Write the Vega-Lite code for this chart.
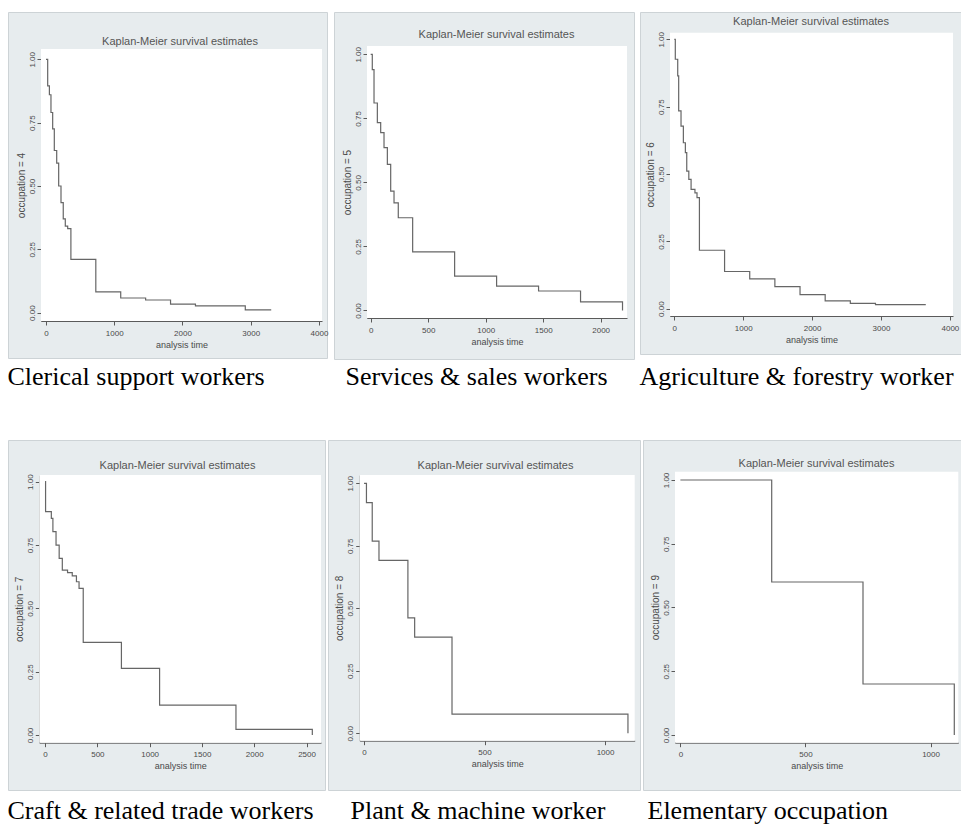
{
  "$schema": "https://vega.github.io/schema/vega-lite/v6.json",
  "background": "white",
  "padding": {"left": 7, "top": 11, "right": 0, "bottom": 0},
  "config": {
    "font": "Liberation Sans",
    "axis": {"labelFont": "Liberation Sans", "titleFont": "Liberation Sans", "labelColor": "#4a4a4a", "titleColor": "#4a4a4a", "labelFontSize": 8, "titleFontSize": 9, "titleFontWeight": "normal", "domainColor": "#5a5a5a", "tickColor": "#5a5a5a", "tickSize": 4, "labelFlush": false, "labelOverlap": false, "labelBound": false, "gridColor": "#e4ebee", "gridWidth": 1},
    "concat": {"spacing": 0}
  },
  "spacing": 48,
  "vconcat": [
    {
      "spacing": 4,
      "hconcat": [
        {
          "title": {"text": "Clerical support workers", "orient": "bottom", "anchor": "start", "frame": "bounds", "offset": 5.7, "dx": 0, "baseline": "top", "font": "Liberation Serif", "fontSize": 26, "fontWeight": "normal", "color": "#000000"},
          "vconcat": [
            {
              "width": 319, "height": 346,
              "view": {"fill": "#e7ecee", "stroke": "#cdd3d6"},
              "title": {"text": "Kaplan-Meier survival estimates", "offset": -46, "dx": 12.5, "frame": "group", "anchor": "middle", "baseline": "bottom", "font": "Liberation Sans", "fontSize": 11, "fontWeight": "normal", "color": "#555555"},
              "data": {"values": [
                {"t": 0, "s": 1}, {"t": 25, "s": 0.895}, {"t": 50, "s": 0.86}, {"t": 73, "s": 0.79}, {"t": 98, "s": 0.725}, {"t": 122, "s": 0.64}, {"t": 157, "s": 0.59}, {"t": 186, "s": 0.5}, {"t": 220, "s": 0.434}, {"t": 253, "s": 0.37}, {"t": 283, "s": 0.342}, {"t": 318, "s": 0.332}, {"t": 365, "s": 0.21}, {"t": 730, "s": 0.082}, {"t": 1095, "s": 0.058}, {"t": 1460, "s": 0.05}, {"t": 1825, "s": 0.034}, {"t": 2190, "s": 0.027}, {"t": 2920, "s": 0.011}, {"t": 3300, "s": 0.011}
              ]},
              "layer": [
                {
                  "data": {"values": [{}]},
                  "mark": {"type": "rect", "color": "#ffffff"},
                  "encoding": {
                    "x": {"datum": -73, "type": "quantitative", "scale": {"domain": [-73, 4044], "range": [33, 314], "nice": false, "zero": false}, "axis": {"values": [0, 1000, 2000, 3000, 4000], "format": "d", "title": "analysis time", "offset": -37, "labelPadding": 4, "titlePadding": 3, "grid": false}},
                    "x2": {"datum": 4044},
                    "y": {"datum": -0.0328, "type": "quantitative", "scale": {"domain": [-0.0328, 1.0406], "range": [309, 37], "nice": false, "zero": false}, "axis": {"values": [0, 0.25, 0.5, 0.75, 1], "format": ".2f", "title": "occupation = 4", "offset": -33, "labelAngle": -90, "labelAlign": "center", "labelBaseline": "bottom", "labelPadding": 1, "titlePadding": 2, "titleFontSize": 10, "grid": true}},
                    "y2": {"datum": 1.0406}
                  }
                },
                {
                  "mark": {"type": "line", "interpolate": "step-after", "color": "#666666", "strokeWidth": 1.2},
                  "encoding": {
                    "x": {"field": "t", "type": "quantitative", "scale": {"domain": [-73, 4044], "range": [33, 314], "nice": false, "zero": false}, "axis": {"values": [0, 1000, 2000, 3000, 4000], "format": "d", "title": "analysis time", "offset": -37, "labelPadding": 4, "titlePadding": 3, "grid": false}},
                    "y": {"field": "s", "type": "quantitative", "scale": {"domain": [-0.0328, 1.0406], "range": [309, 37], "nice": false, "zero": false}, "axis": {"values": [0, 0.25, 0.5, 0.75, 1], "format": ".2f", "title": "occupation = 4", "offset": -33, "labelAngle": -90, "labelAlign": "center", "labelBaseline": "bottom", "labelPadding": 1, "titlePadding": 2, "titleFontSize": 10, "grid": true}}
                  }
                }
              ]
            }
          ]
        },
        {
          "title": {"text": "Services & sales workers", "orient": "bottom", "anchor": "start", "frame": "bounds", "offset": 4.7, "dx": 12, "baseline": "top", "font": "Liberation Serif", "fontSize": 26, "fontWeight": "normal", "color": "#000000"},
          "vconcat": [
            {
              "width": 300, "height": 347,
              "view": {"fill": "#e7ecee", "stroke": "#cdd3d6"},
              "title": {"text": "Kaplan-Meier survival estimates", "offset": -39, "dx": 12.5, "frame": "group", "anchor": "middle", "baseline": "bottom", "font": "Liberation Sans", "fontSize": 11, "fontWeight": "normal", "color": "#555555"},
              "data": {"values": [
                {"t": 0, "s": 1}, {"t": 14, "s": 0.94}, {"t": 29, "s": 0.81}, {"t": 58, "s": 0.733}, {"t": 87, "s": 0.694}, {"t": 116, "s": 0.636}, {"t": 145, "s": 0.57}, {"t": 174, "s": 0.466}, {"t": 203, "s": 0.42}, {"t": 240, "s": 0.362}, {"t": 365, "s": 0.229}, {"t": 730, "s": 0.134}, {"t": 1095, "s": 0.095}, {"t": 1460, "s": 0.076}, {"t": 1825, "s": 0.034}, {"t": 2190, "s": 0}
              ]},
              "layer": [
                {
                  "data": {"values": [{}]},
                  "mark": {"type": "rect", "color": "#ffffff"},
                  "encoding": {
                    "x": {"datum": -32, "type": "quantitative", "scale": {"domain": [-32, 2229], "range": [33, 293], "nice": false, "zero": false}, "axis": {"values": [0, 500, 1000, 1500, 2000], "format": "d", "title": "analysis time", "offset": -41, "labelPadding": 4, "titlePadding": 3, "grid": false}},
                    "x2": {"datum": 2229},
                    "y": {"datum": -0.0293, "type": "quantitative", "scale": {"domain": [-0.0293, 1.0324], "range": [306, 34], "nice": false, "zero": false}, "axis": {"values": [0, 0.25, 0.5, 0.75, 1], "format": ".2f", "title": "occupation = 5", "offset": -33, "labelAngle": -90, "labelAlign": "center", "labelBaseline": "bottom", "labelPadding": 1, "titlePadding": 2, "titleFontSize": 10, "grid": true}},
                    "y2": {"datum": 1.0324}
                  }
                },
                {
                  "mark": {"type": "line", "interpolate": "step-after", "color": "#666666", "strokeWidth": 1.2},
                  "encoding": {
                    "x": {"field": "t", "type": "quantitative", "scale": {"domain": [-32, 2229], "range": [33, 293], "nice": false, "zero": false}, "axis": {"values": [0, 500, 1000, 1500, 2000], "format": "d", "title": "analysis time", "offset": -41, "labelPadding": 4, "titlePadding": 3, "grid": false}},
                    "y": {"field": "s", "type": "quantitative", "scale": {"domain": [-0.0293, 1.0324], "range": [306, 34], "nice": false, "zero": false}, "axis": {"values": [0, 0.25, 0.5, 0.75, 1], "format": ".2f", "title": "occupation = 5", "offset": -33, "labelAngle": -90, "labelAlign": "center", "labelBaseline": "bottom", "labelPadding": 1, "titlePadding": 2, "titleFontSize": 10, "grid": true}}
                  }
                }
              ]
            }
          ]
        },
        {
          "title": {"text": "Agriculture & forestry worker", "orient": "bottom", "anchor": "start", "frame": "bounds", "offset": 9.7, "dx": 0, "baseline": "top", "font": "Liberation Serif", "fontSize": 26, "fontWeight": "normal", "color": "#000000"},
          "vconcat": [
            {
              "width": 327, "height": 342,
              "view": {"fill": "#e7ecee", "stroke": "#cdd3d6"},
              "title": {"text": "Kaplan-Meier survival estimates", "offset": -26, "dx": 7.5, "frame": "group", "anchor": "middle", "baseline": "bottom", "font": "Liberation Sans", "fontSize": 11, "fontWeight": "normal", "color": "#555555"},
              "data": {"values": [
                {"t": 0, "s": 1}, {"t": 15, "s": 0.926}, {"t": 50, "s": 0.864}, {"t": 64, "s": 0.734}, {"t": 98, "s": 0.678}, {"t": 132, "s": 0.616}, {"t": 161, "s": 0.579}, {"t": 181, "s": 0.511}, {"t": 211, "s": 0.48}, {"t": 244, "s": 0.443}, {"t": 300, "s": 0.43}, {"t": 330, "s": 0.412}, {"t": 365, "s": 0.217}, {"t": 730, "s": 0.138}, {"t": 1095, "s": 0.111}, {"t": 1460, "s": 0.082}, {"t": 1825, "s": 0.052}, {"t": 2190, "s": 0.029}, {"t": 2555, "s": 0.02}, {"t": 2920, "s": 0.015}, {"t": 3650, "s": 0.015}
              ]},
              "layer": [
                {
                  "data": {"values": [{}]},
                  "mark": {"type": "rect", "color": "#ffffff"},
                  "encoding": {
                    "x": {"datum": -62, "type": "quantitative", "scale": {"domain": [-62, 4045], "range": [30, 313], "nice": false, "zero": false}, "axis": {"values": [0, 1000, 2000, 3000, 4000], "format": "d", "title": "analysis time", "offset": -38, "labelPadding": 4, "titlePadding": 3, "grid": false}},
                    "x2": {"datum": 4045},
                    "y": {"datum": -0.0271, "type": "quantitative", "scale": {"domain": [-0.0271, 1.0245], "range": [304, 20.7], "nice": false, "zero": false}, "axis": {"values": [0, 0.25, 0.5, 0.75, 1], "format": ".2f", "title": "occupation = 6", "offset": -30, "labelAngle": -90, "labelAlign": "center", "labelBaseline": "bottom", "labelPadding": 1, "titlePadding": 2, "titleFontSize": 10, "grid": true}},
                    "y2": {"datum": 1.0245}
                  }
                },
                {
                  "mark": {"type": "line", "interpolate": "step-after", "color": "#666666", "strokeWidth": 1.2},
                  "encoding": {
                    "x": {"field": "t", "type": "quantitative", "scale": {"domain": [-62, 4045], "range": [30, 313], "nice": false, "zero": false}, "axis": {"values": [0, 1000, 2000, 3000, 4000], "format": "d", "title": "analysis time", "offset": -38, "labelPadding": 4, "titlePadding": 3, "grid": false}},
                    "y": {"field": "s", "type": "quantitative", "scale": {"domain": [-0.0271, 1.0245], "range": [304, 20.7], "nice": false, "zero": false}, "axis": {"values": [0, 0.25, 0.5, 0.75, 1], "format": ".2f", "title": "occupation = 6", "offset": -30, "labelAngle": -90, "labelAlign": "center", "labelBaseline": "bottom", "labelPadding": 1, "titlePadding": 2, "titleFontSize": 10, "grid": true}}
                  }
                }
              ]
            }
          ]
        }
      ]
    },
    {
      "spacing": 1,
      "hconcat": [
        {
          "title": {"text": "Craft & related trade workers", "orient": "bottom", "anchor": "start", "frame": "bounds", "offset": 7.4, "dx": 0, "baseline": "top", "font": "Liberation Serif", "fontSize": 26, "fontWeight": "normal", "color": "#000000"},
          "vconcat": [
            {
              "width": 317, "height": 350,
              "view": {"fill": "#e7ecee", "stroke": "#cdd3d6"},
              "title": {"text": "Kaplan-Meier survival estimates", "offset": -42, "dx": 11, "frame": "group", "anchor": "middle", "baseline": "bottom", "font": "Liberation Sans", "fontSize": 11, "fontWeight": "normal", "color": "#555555"},
              "data": {"values": [
                {"t": 0, "s": 1}, {"t": 5, "s": 0.882}, {"t": 60, "s": 0.855}, {"t": 75, "s": 0.803}, {"t": 105, "s": 0.75}, {"t": 135, "s": 0.697}, {"t": 165, "s": 0.651}, {"t": 215, "s": 0.641}, {"t": 260, "s": 0.628}, {"t": 300, "s": 0.605}, {"t": 325, "s": 0.579}, {"t": 365, "s": 0.366}, {"t": 730, "s": 0.263}, {"t": 1095, "s": 0.118}, {"t": 1825, "s": 0.022}, {"t": 2555, "s": 0}
              ]},
              "layer": [
                {
                  "data": {"values": [{}]},
                  "mark": {"type": "rect", "color": "#ffffff"},
                  "encoding": {
                    "x": {"datum": -55, "type": "quantitative", "scale": {"domain": [-55, 2638], "range": [31.3, 313], "nice": false, "zero": false}, "axis": {"values": [0, 500, 1000, 1500, 2000, 2500], "format": "d", "title": "analysis time", "offset": -47.3, "labelPadding": 4, "titlePadding": 3, "grid": false}},
                    "x2": {"datum": 2638},
                    "y": {"datum": -0.0304, "type": "quantitative", "scale": {"domain": [-0.0304, 1.0265], "range": [302.7, 35], "nice": false, "zero": false}, "axis": {"values": [0, 0.25, 0.5, 0.75, 1], "format": ".2f", "title": "occupation = 7", "offset": -31.3, "labelAngle": -90, "labelAlign": "center", "labelBaseline": "bottom", "labelPadding": 1, "titlePadding": 2, "titleFontSize": 10, "grid": true}},
                    "y2": {"datum": 1.0265}
                  }
                },
                {
                  "mark": {"type": "line", "interpolate": "step-after", "color": "#666666", "strokeWidth": 1.2},
                  "encoding": {
                    "x": {"field": "t", "type": "quantitative", "scale": {"domain": [-55, 2638], "range": [31.3, 313], "nice": false, "zero": false}, "axis": {"values": [0, 500, 1000, 1500, 2000, 2500], "format": "d", "title": "analysis time", "offset": -47.3, "labelPadding": 4, "titlePadding": 3, "grid": false}},
                    "y": {"field": "s", "type": "quantitative", "scale": {"domain": [-0.0304, 1.0265], "range": [302.7, 35], "nice": false, "zero": false}, "axis": {"values": [0, 0.25, 0.5, 0.75, 1], "format": ".2f", "title": "occupation = 7", "offset": -31.3, "labelAngle": -90, "labelAlign": "center", "labelBaseline": "bottom", "labelPadding": 1, "titlePadding": 2, "titleFontSize": 10, "grid": true}}
                  }
                }
              ]
            }
          ]
        },
        {
          "title": {"text": "Plant & machine worker", "orient": "bottom", "anchor": "start", "frame": "bounds", "offset": 7.4, "dx": 23, "baseline": "top", "font": "Liberation Serif", "fontSize": 26, "fontWeight": "normal", "color": "#000000"},
          "vconcat": [
            {
              "width": 312, "height": 350,
              "view": {"fill": "#e7ecee", "stroke": "#cdd3d6"},
              "title": {"text": "Kaplan-Meier survival estimates", "offset": -42, "dx": 11.5, "frame": "group", "anchor": "middle", "baseline": "bottom", "font": "Liberation Sans", "fontSize": 11, "fontWeight": "normal", "color": "#555555"},
              "data": {"values": [
                {"t": 0, "s": 1}, {"t": 10, "s": 0.923}, {"t": 34, "s": 0.769}, {"t": 62, "s": 0.692}, {"t": 182, "s": 0.462}, {"t": 210, "s": 0.385}, {"t": 365, "s": 0.077}, {"t": 1095, "s": 0}
              ]},
              "layer": [
                {
                  "data": {"values": [{}]},
                  "mark": {"type": "rect", "color": "#ffffff"},
                  "encoding": {
                    "x": {"datum": -18, "type": "quantitative", "scale": {"domain": [-18, 1123], "range": [31.7, 306.7], "nice": false, "zero": false}, "axis": {"values": [0, 500, 1000], "format": "d", "title": "analysis time", "offset": -49.3, "labelPadding": 4, "titlePadding": 3, "grid": false}},
                    "x2": {"datum": 1123},
                    "y": {"datum": -0.0296, "type": "quantitative", "scale": {"domain": [-0.0296, 1.0332], "range": [300.7, 35], "nice": false, "zero": false}, "axis": {"values": [0, 0.25, 0.5, 0.75, 1], "format": ".2f", "title": "occupation = 8", "offset": -31.7, "labelAngle": -90, "labelAlign": "center", "labelBaseline": "bottom", "labelPadding": 1, "titlePadding": 2, "titleFontSize": 10, "grid": true}},
                    "y2": {"datum": 1.0332}
                  }
                },
                {
                  "mark": {"type": "line", "interpolate": "step-after", "color": "#666666", "strokeWidth": 1.2},
                  "encoding": {
                    "x": {"field": "t", "type": "quantitative", "scale": {"domain": [-18, 1123], "range": [31.7, 306.7], "nice": false, "zero": false}, "axis": {"values": [0, 500, 1000], "format": "d", "title": "analysis time", "offset": -49.3, "labelPadding": 4, "titlePadding": 3, "grid": false}},
                    "y": {"field": "s", "type": "quantitative", "scale": {"domain": [-0.0296, 1.0332], "range": [300.7, 35], "nice": false, "zero": false}, "axis": {"values": [0, 0.25, 0.5, 0.75, 1], "format": ".2f", "title": "occupation = 8", "offset": -31.7, "labelAngle": -90, "labelAlign": "center", "labelBaseline": "bottom", "labelPadding": 1, "titlePadding": 2, "titleFontSize": 10, "grid": true}}
                  }
                }
              ]
            }
          ]
        },
        {
          "title": {"text": "Elementary occupation", "orient": "bottom", "anchor": "start", "frame": "bounds", "offset": 7.4, "dx": 5, "baseline": "top", "font": "Liberation Serif", "fontSize": 26, "fontWeight": "normal", "color": "#000000"},
          "vconcat": [
            {
              "width": 323, "height": 350,
              "view": {"fill": "#e7ecee", "stroke": "#cdd3d6"},
              "title": {"text": "Kaplan-Meier survival estimates", "offset": -40, "dx": 12, "frame": "group", "anchor": "middle", "baseline": "bottom", "font": "Liberation Sans", "fontSize": 11, "fontWeight": "normal", "color": "#555555"},
              "data": {"values": [
                {"t": 0, "s": 1}, {"t": 365, "s": 0.6}, {"t": 730, "s": 0.2}, {"t": 1095, "s": 0}
              ]},
              "layer": [
                {
                  "data": {"values": [{}]},
                  "mark": {"type": "rect", "color": "#ffffff"},
                  "encoding": {
                    "x": {"datum": -21.6, "type": "quantitative", "scale": {"domain": [-21.6, 1111], "range": [32, 315.3], "nice": false, "zero": false}, "axis": {"values": [0, 500, 1000], "format": "d", "title": "analysis time", "offset": -47.3, "labelPadding": 4, "titlePadding": 3, "grid": false}},
                    "x2": {"datum": 1111},
                    "y": {"datum": -0.0302, "type": "quantitative", "scale": {"domain": [-0.0302, 1.0325], "range": [302.7, 31.7], "nice": false, "zero": false}, "axis": {"values": [0, 0.25, 0.5, 0.75, 1], "format": ".2f", "title": "occupation = 9", "offset": -32, "labelAngle": -90, "labelAlign": "center", "labelBaseline": "bottom", "labelPadding": 1, "titlePadding": 2, "titleFontSize": 10, "grid": true}},
                    "y2": {"datum": 1.0325}
                  }
                },
                {
                  "mark": {"type": "line", "interpolate": "step-after", "color": "#666666", "strokeWidth": 1.2},
                  "encoding": {
                    "x": {"field": "t", "type": "quantitative", "scale": {"domain": [-21.6, 1111], "range": [32, 315.3], "nice": false, "zero": false}, "axis": {"values": [0, 500, 1000], "format": "d", "title": "analysis time", "offset": -47.3, "labelPadding": 4, "titlePadding": 3, "grid": false}},
                    "y": {"field": "s", "type": "quantitative", "scale": {"domain": [-0.0302, 1.0325], "range": [302.7, 31.7], "nice": false, "zero": false}, "axis": {"values": [0, 0.25, 0.5, 0.75, 1], "format": ".2f", "title": "occupation = 9", "offset": -32, "labelAngle": -90, "labelAlign": "center", "labelBaseline": "bottom", "labelPadding": 1, "titlePadding": 2, "titleFontSize": 10, "grid": true}}
                  }
                }
              ]
            }
          ]
        }
      ]
    }
  ]
}
